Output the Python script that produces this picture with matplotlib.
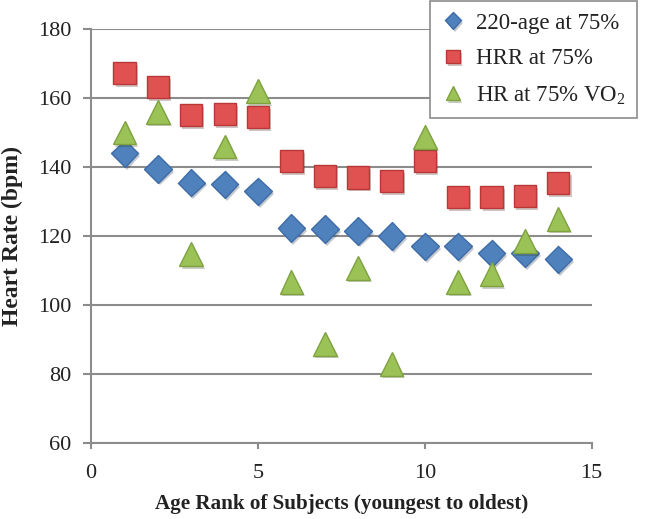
import matplotlib
matplotlib.use("Agg")
import matplotlib.pyplot as plt
import matplotlib.patheffects as pe

plt.rcParams['font.family'] = ['Liberation Serif', 'DejaVu Serif']
plt.rcParams['mathtext.fontset'] = 'custom'
plt.rcParams['mathtext.rm'] = 'Liberation Serif'
plt.rcParams['mathtext.it'] = 'Liberation Serif:italic'

# age rank of each subject
rank = [1, 2, 3, 4, 5, 6, 7, 8, 9, 10, 11, 12, 13, 14]
# heart rate estimates (bpm)
hr_220_age = [144, 139.5, 135.5, 135, 133, 122.3, 122, 121.5, 120, 117, 117, 115, 115, 113.3]
hr_hrr = [167.2, 163.2, 155, 155.4, 154.5, 141.7, 137.4, 137, 136, 141.7, 131.3, 131.3, 131.6, 135.4]
hr_vo2 = [150, 156, 114.8, 146, 162, 106.8, 88.8, 110.8, 83, 148.8, 106.8, 109, 118.6, 125]

grid_col = '#8c8c8c'
text_col = '#222222'
shadow = [pe.SimplePatchShadow(offset=(1.5, -2), alpha=0.25), pe.Normal()]

fig = plt.figure(figsize=(6.56, 5.19), dpi=100)
ax = fig.add_axes([0.139, 0.146, 0.763, 0.798])

ax.plot(rank, hr_220_age, 'D', ms=14, color='#4f81bd', mec='#3d6ca8', mew=1,
        label='220-age at 75%', path_effects=shadow, zorder=3)
ax.plot(rank, hr_hrr, 's', ms=16, color='#e05252', mec='#b83838', mew=1,
        label='HRR at 75%', path_effects=shadow, zorder=3)
ax.plot(rank, hr_vo2, '^', ms=17, color='#9bc256', mec='#7ea23e', mew=1,
        label='HR at 75% VO$_2$', path_effects=shadow, zorder=3)

ax.set_xlim(0, 15)
ax.set_ylim(60, 180)
ax.set_xticks([0, 5, 10, 15])
ax.set_yticks(range(60, 181, 20))
ax.yaxis.grid(True, color=grid_col, lw=1.5)
ax.set_axisbelow(True)
for s in ['top', 'right']:
    ax.spines[s].set_visible(False)
for s in ['left', 'bottom']:
    ax.spines[s].set_color(grid_col)
    ax.spines[s].set_linewidth(1.5)
ax.tick_params(axis='both', colors=grid_col, labelcolor=text_col, labelsize=16,
               width=1.5, direction='out')
ax.tick_params(axis='x', length=4, pad=11)
ax.tick_params(axis='y', length=6, pad=8)

ax.set_xlabel('Age Rank of Subjects (youngest to oldest)', fontsize=15.2,
              fontweight='bold', color=text_col, labelpad=8)
ax.set_ylabel('Heart Rate (bpm)', fontsize=17, fontweight='bold',
              color=text_col, labelpad=11)

leg = fig.legend(loc='upper right', bbox_to_anchor=(637 / 656, 1 - 1 / 519),
                 bbox_transform=fig.transFigure, borderaxespad=0, fontsize=16.5,
                 frameon=True, fancybox=False, edgecolor=grid_col,
                 framealpha=1, markerscale=0.6, handletextpad=0.5,
                 handlelength=1.0, labelspacing=0.65, borderpad=0.5)
leg.get_frame().set_linewidth(1.2)
for t in leg.get_texts():
    t.set_color(text_col)

fig.savefig('out.png', dpi=100)
